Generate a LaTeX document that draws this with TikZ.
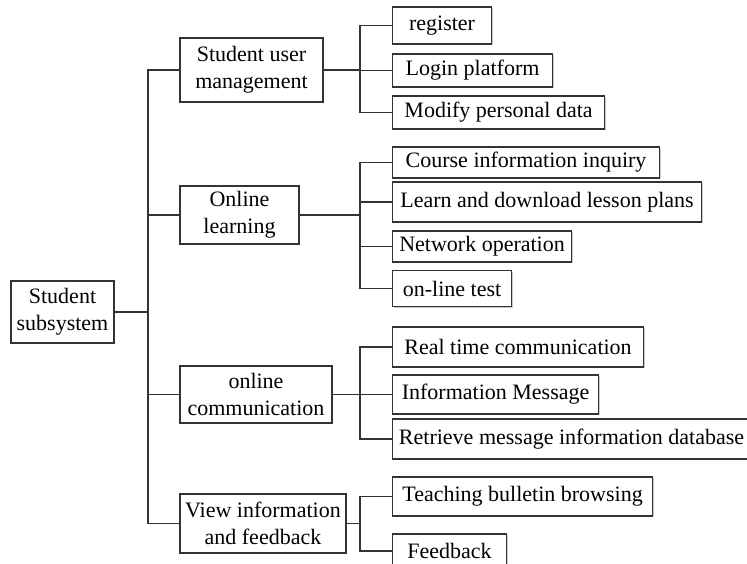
\documentclass[tikz,border=0pt]{standalone}
\usepackage{fontspec}
\setmainfont{Liberation Serif}
\usepackage{tikz}
\usetikzlibrary{shadows}

\tikzset{
  box/.style={draw=black!80, line width=1.1pt, fill=white, inner sep=0pt,
    align=center, font=\fontsize{22}{26.6}\selectfont,
    drop shadow={shadow xshift=1.3pt, shadow yshift=-1.3pt, fill=black!35, opacity=0.6}},
  leaf/.style={box, anchor=west},
  link/.style={draw=black!80, line width=1.1pt}
}

\begin{document}
\begin{tikzpicture}[x=1pt,y=1pt,yscale=-1,xscale=1]
\useasboundingbox (0,0) rectangle (747,563);

% Root
\node [box, minimum width=103, minimum height=62] (stu) at (62.5,312) {Student\\subsystem};
\coordinate (trunk) at (148,312);

% Second level
\node [box, minimum width=143, minimum height=64] (usr) at (251.5,70) {Student user\\management};
\node [box, minimum width=119, minimum height=58] (lrn) at (239.5,215) {Online\\learning};
\node [box, minimum width=152, minimum height=57] (com) at (256,394.5) {online\\communication};
\node [box, minimum width=166, minimum height=59] (view) at (263,523.5) {View information\\and feedback};

% Leaves of user management
\node [leaf, minimum width=99, minimum height=37] (reg) at (392,25.5) {register};
\node [leaf, minimum width=160, minimum height=33] (login) at (392,70.5) {Login platform};
\node [leaf, minimum width=212, minimum height=33] (modify) at (392,112.5) {Modify personal data};
\coordinate (busr) at (360,70);

% Leaves of online learning
\node [leaf, minimum width=267, minimum height=31] (course) at (392,162.5) {Course information inquiry};
\node [leaf, minimum width=309, minimum height=40] (plans) at (392,202) {Learn and download lesson plans};
\node [leaf, minimum width=179, minimum height=31] (netop) at (392,246.5) {Network operation};
\node [leaf, minimum width=119, minimum height=36] (test) at (392,288.5) {on-line test};
\coordinate (blrn) at (360,215);

% Leaves of online communication
\node [leaf, minimum width=251, minimum height=40] (real) at (392,347) {Real time communication};
\node [leaf, minimum width=206, minimum height=39] (msg) at (392,394.5) {Information Message};
\node [leaf, minimum width=358, minimum height=40] (retr) at (392,439) {Retrieve message information database};
\coordinate (bcom) at (360,394.5);

% Leaves of view information
\node [leaf, minimum width=260, minimum height=39] (bull) at (392,496.5) {Teaching bulletin browsing};
\node [leaf, minimum width=114, minimum height=34] (feed) at (392,551) {Feedback};
\coordinate (bview) at (360,523.5);

% Connectors
\draw [link] (stu.east) -- (trunk);
\foreach \n in {usr,lrn,com,view}
  \draw [link] (\n.west) -| (trunk);
\draw [link] (usr.east) -- (busr);
\draw [link] (lrn.east) -- (blrn);
\draw [link] (com.east) -- (bcom);
\draw [link] (view.east) -- (bview);
\foreach \n in {reg,login,modify}
  \draw [link] (\n.west) -| (busr);
\foreach \n in {course,plans,netop,test}
  \draw [link] (\n.west) -| (blrn);
\foreach \n in {real,msg,retr}
  \draw [link] (\n.west) -| (bcom);
\foreach \n in {bull,feed}
  \draw [link] (\n.west) -| (bview);

\end{tikzpicture}
\end{document}
